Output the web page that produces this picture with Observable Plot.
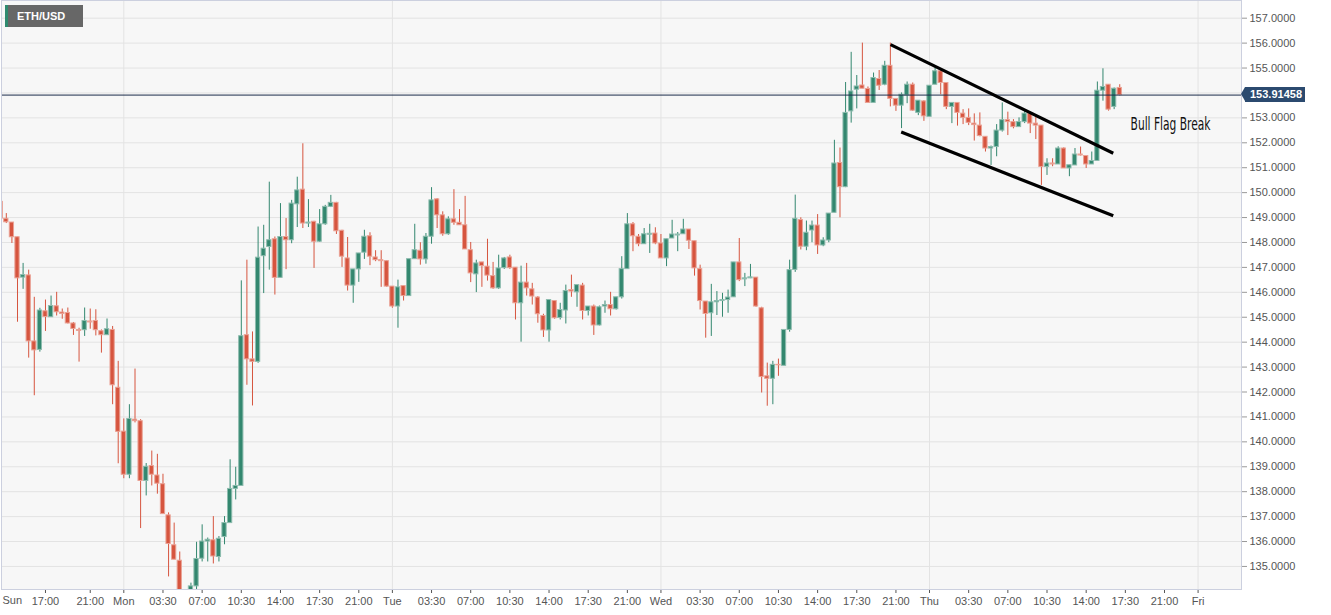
<!DOCTYPE html>
<html><head><meta charset="utf-8">
<script src="https://cdn.jsdelivr.net/npm/d3@7"></script>
<script src="https://cdn.jsdelivr.net/npm/@observablehq/plot@0.6"></script>
<style>
html,body{margin:0;padding:0;background:#fff;}
#wrap{position:relative;width:1331px;height:615px;overflow:hidden;}
#sym{position:absolute;z-index:2;left:5px;top:5px;width:78px;height:22px;background:#676767;border-left:3px solid #2f8a6f;color:#fff;font:bold 11px "Liberation Sans",Arial,sans-serif;line-height:22px;padding-left:9px;box-sizing:border-box;}
#tag{position:absolute;z-index:3;height:15px;width:60px;background:#2b4a6f;color:#fff;font:bold 11px "Liberation Sans",Arial,sans-serif;line-height:15px;padding-left:5px;box-sizing:border-box;white-space:nowrap;}
#tag:before{content:"";position:absolute;left:-4px;top:0;border-top:7.5px solid transparent;border-bottom:7.5px solid transparent;border-right:4px solid #2b4a6f;}
</style></head><body><div id="wrap"><div id="sym">ETH/USD</div><div id="tag"></div></div>
<script>
// 30-minute candles, first bar Sun 13:00 (hours relative to Mon 00:00)
const firstBarHour = -11;
const barHours = 0.5;
const open = [149.63,148.95,148.80,148.21,146.59,146.68,144.03,143.69,145.24,145.00,
145.44,145.19,145.17,144.75,144.49,144.48,144.83,144.85,144.44,144.28,
144.49,142.17,140.41,138.68,140.89,140.83,138.43,139.03,138.65,138.30,
137.05,135.85,135.23,133.95,133.90,134.20,135.31,136.00,136.05,135.38,
136.18,136.74,138.11,138.23,144.28,143.31,143.21,147.45,147.82,148.13,
146.58,148.22,148.09,149.53,150.12,148.76,148.83,148.03,148.73,149.43,
149.59,148.47,147.36,146.27,146.92,147.59,148.25,147.40,147.29,147.25,
146.23,145.43,146.25,145.85,147.33,147.67,147.32,148.23,149.73,149.09,
148.33,148.93,148.79,148.69,147.69,146.72,147.20,147.03,146.65,146.16,
146.97,147.40,146.99,145.56,146.39,146.12,145.79,145.05,144.47,145.65,
144.97,145.27,146.09,146.00,146.27,145.25,145.43,144.67,145.43,145.49,
145.32,145.80,146.93,148.73,148.23,147.93,148.31,148.36,147.96,147.36,
148.16,148.28,148.33,148.52,148.05,146.93,145.63,145.16,145.60,145.65,
145.69,145.80,147.20,146.52,146.56,146.59,145.36,142.63,142.53,143.09,
143.05,144.49,146.90,148.90,147.83,148.48,148.68,147.88,148.08,149.19,
151.19,150.22,153.26,154.13,154.30,154.16,153.60,154.56,154.33,155.09,
153.76,153.49,153.90,154.33,153.20,153.66,153.04,154.33,154.87,154.40,
153.44,153.60,153.17,153.00,152.77,152.69,152.24,151.77,151.83,152.49,
152.91,152.83,152.63,152.83,153.17,152.77,152.69,151.03,151.17,151.13,
151.77,150.97,151.09,151.53,151.47,151.13,151.27,154.09,154.33,153.44,
154.20];
const high = [149.65,149.16,148.80,148.21,147.16,146.89,145.80,145.36,145.69,145.85,
146.00,145.33,145.37,144.79,144.56,145.37,145.33,145.30,144.49,144.93,
144.63,143.23,140.92,141.49,142.92,140.89,139.13,139.63,139.50,138.70,
137.15,136.74,135.58,134.00,134.33,135.97,136.67,136.14,137.00,136.20,
137.00,139.28,138.98,146.46,147.29,144.41,148.62,148.69,150.42,148.22,
149.56,148.96,149.69,150.62,151.96,149.72,148.85,149.32,149.49,149.89,
149.61,148.49,148.20,146.92,147.56,148.49,148.39,147.67,147.67,147.27,
146.23,146.49,146.25,147.33,148.73,147.99,148.36,150.20,149.76,149.23,
149.03,150.12,149.32,149.85,148.00,147.29,147.20,148.13,147.20,147.49,
147.40,147.49,146.99,147.05,147.16,146.36,145.83,145.12,145.69,145.67,
145.56,146.29,146.69,146.29,146.36,145.43,145.49,145.45,145.65,146.00,
145.80,147.43,149.16,148.80,148.32,148.56,148.73,148.59,148.32,148.13,
148.89,148.40,148.93,148.52,148.05,147.09,145.63,146.32,146.03,145.96,
146.09,147.20,148.16,146.76,147.12,146.59,145.40,143.16,143.23,143.32,
144.49,147.29,149.90,148.99,148.86,148.86,149.12,148.19,149.16,152.10,
151.79,154.42,155.63,154.70,156.00,154.24,154.80,154.90,155.27,156.00,
153.76,154.00,154.44,154.40,153.69,153.69,154.29,155.00,154.93,154.40,
153.60,153.60,153.33,153.36,153.16,153.20,152.24,151.87,152.73,153.60,
153.23,152.93,153.00,153.27,153.23,153.07,152.69,151.36,151.36,151.84,
151.80,151.10,151.77,151.83,151.47,151.63,154.44,154.97,154.33,154.20,
154.33];
const low = [148.75,148.76,147.96,144.80,146.12,143.36,141.85,143.60,144.43,144.99,
145.05,144.92,144.73,144.27,143.20,144.23,144.52,144.25,143.56,144.27,
141.49,139.12,138.52,138.52,140.76,136.52,137.83,138.23,137.90,137.10,
134.58,135.27,133.80,133.60,133.70,133.90,135.18,135.18,135.10,135.18,
135.87,136.74,137.67,138.23,142.27,141.44,143.15,145.95,146.89,145.89,
146.58,146.91,147.95,148.60,148.56,148.60,146.96,148.00,148.69,149.40,
148.32,147.00,146.05,145.56,146.40,147.32,147.07,147.23,146.20,146.20,
145.36,144.56,145.65,145.85,147.33,147.09,147.13,147.93,148.56,148.25,
148.29,148.69,148.69,147.72,146.39,145.99,146.20,146.45,146.12,146.12,
146.92,146.92,144.89,144.00,145.85,145.49,144.76,144.19,144.00,144.92,
144.89,144.73,145.80,145.40,144.89,145.05,144.27,144.65,145.16,145.05,
145.29,145.73,146.93,147.63,147.83,147.93,147.56,147.91,147.36,147.03,
148.16,147.63,148.33,147.72,146.65,145.29,144.16,144.23,145.07,145.00,
145.16,145.80,146.43,146.23,146.55,145.40,141.96,141.43,141.49,142.63,
143.05,144.40,146.80,147.70,147.67,147.99,147.52,147.83,147.99,149.19,
148.99,150.20,152.79,153.36,154.17,153.60,153.60,154.10,154.29,153.44,
153.26,152.57,153.57,153.26,153.09,152.86,153.04,154.33,153.93,153.33,
152.77,152.67,152.73,152.69,152.07,152.24,151.63,151.09,151.44,152.43,
152.29,152.56,152.63,152.77,152.37,152.13,150.29,150.69,151.04,151.13,
150.97,150.64,151.09,151.47,150.97,151.13,151.27,153.67,153.27,153.33,
153.88];
const close = [148.96,148.81,148.21,146.56,146.69,144.03,143.67,145.27,145.01,145.45,
145.20,145.13,144.75,144.53,144.45,144.85,144.79,144.48,144.28,144.52,
142.27,140.40,138.68,140.92,140.83,138.43,139.00,138.68,138.32,137.10,
135.90,135.27,134.00,133.85,134.20,135.30,136.00,136.07,135.40,136.11,
136.74,138.11,138.23,144.24,143.31,143.21,147.39,147.75,148.09,146.58,
148.22,148.09,149.56,150.09,148.76,148.80,148.03,148.73,149.43,149.59,
148.45,147.43,146.27,146.92,147.56,148.23,147.43,147.29,147.25,146.23,
145.43,146.20,145.85,147.33,147.69,147.32,148.23,149.69,149.09,148.33,
148.93,148.79,148.69,147.72,146.76,147.16,147.05,146.67,146.16,146.96,
147.36,146.97,145.56,146.39,146.16,145.83,145.12,144.47,145.69,144.96,
145.29,146.05,146.03,146.29,145.25,145.43,144.67,145.40,145.49,145.32,
145.80,146.93,148.73,148.25,147.93,148.33,148.35,147.96,147.36,148.13,
148.32,148.32,148.52,148.07,146.96,145.65,145.13,145.60,145.65,145.69,
145.79,147.20,146.49,146.56,146.60,145.43,142.60,142.53,143.09,143.07,
144.49,146.89,148.95,147.83,148.39,148.68,147.88,148.08,149.16,151.17,
150.22,153.20,154.06,154.26,154.17,153.60,154.60,154.29,155.09,153.76,
153.49,153.93,154.33,153.29,153.69,153.06,154.29,154.87,154.40,153.44,
153.60,153.20,153.00,152.80,152.71,152.27,151.77,151.83,152.49,152.91,
152.83,152.63,152.83,153.17,152.77,152.69,151.03,151.17,151.13,151.77,
150.97,151.10,151.53,151.49,151.13,151.27,154.09,154.24,153.33,154.17,
153.91458];
const lastPrice = 153.91458;
const lastPriceLabel = "153.91458";

const priceTicks = d3.range(135, 158);
const hiddenPriceLabels = [154]; // covered by the last-price tag
const timeTicks = [-7,-3,0,3.5,7,10.5,14,17.5,21,24,27.5,31,34.5,38,41.5,45,48,51.5,55,58.5,62,65.5,69,72,75.5,79,82.5,86,89.5,93,96];
const timeTickLabels = ["17:00","21:00","Mon","03:30","07:00","10:30","14:00","17:30","21:00","Tue","03:30","07:00","10:30","14:00","17:30","21:00","Wed","03:30","07:00","10:30","14:00","17:30","21:00","Thu","03:30","07:00","10:30","14:00","17:30","21:00","Fri"];
const dayLines = [0, 24, 48, 72, 96];
const firstDayLabel = "Sun";

// Bull flag trend lines (hours, price)
const flagX1 = [68.52, 69.47];
const flagY1 = [155.94, 152.43];
const flagX2 = [88.42, 88.42];
const flagY2 = [151.58, 149.07];
const noteText = "Bull Flag Break";
const noteX = 93.54, noteY = 152.73;

const UP = "#33876f", DOWN = "#d6553f";
const UP_EDGE = "#8dbcae", DOWN_EDGE = "#eaa295";

const bars = open.map((o, i) => ({
  t: firstBarHour + i * barHours, open: o, high: high[i], low: low[i], close: close[i], up: close[i] >= o
}));
const flags = flagX1.map((x, i) => ({x1: x, y1: flagY1[i], x2: flagX2[i], y2: flagY2[i]}));
const labelOf = new Map(timeTicks.map((t, i) => [t, timeTickLabels[i]]));
const shownPriceLabels = priceTicks.filter(p => !hiddenPriceLabels.includes(p));

const plot = Plot.plot({
  width: 1331, height: 615,
  marginLeft: 1, marginRight: 90, marginTop: 0, marginBottom: 26,
  x: {type: "linear", domain: [-10.93, 99.88], axis: null},
  y: {domain: [134.075, 157.71], axis: null},
  style: {background: "white", fontFamily: "'Liberation Sans', Arial, sans-serif", color: "#555"},
  marks: [
    Plot.frame({fill: "#f7f7f7"}),
    Plot.gridY(priceTicks, {stroke: "#e3e3e3", strokeOpacity: 1}),
    Plot.gridX(dayLines, {stroke: "#e3e3e3", strokeOpacity: 1}),
    Plot.ruleX(bars, {x: "t", y1: "low", y2: "high", stroke: d => d.up ? UP : DOWN, strokeWidth: 1, clip: true}),
    Plot.rect(bars, {x1: d => d.t - 0.19, x2: d => d.t + 0.19, y1: "open", y2: "close",
      fill: d => d.up ? UP : DOWN, stroke: d => d.up ? UP_EDGE : DOWN_EDGE, strokeWidth: 1, clip: true}),
    Plot.ruleY([lastPrice], {stroke: "#1b2c4a", strokeWidth: 1}),
    Plot.link(flags, {x1: "x1", y1: "y1", x2: "x2", y2: "y2", stroke: "#000", strokeWidth: 3.2, strokeLinecap: "butt"}),
    Plot.text([noteText], {x: noteX, y: noteY, text: d => d, fontSize: 18, fill: "#111",
      fontFamily: "'Liberation Sans Narrow', 'Arial Narrow', 'DejaVu Sans Condensed', sans-serif"}),
    Plot.axisY(priceTicks, {anchor: "right", tickSize: 5, text: null, stroke: "#999"}),
    Plot.axisY(shownPriceLabels, {anchor: "right", tickSize: 5, tickPadding: 3, tickFormat: d => d.toFixed(4), fontSize: 11, stroke: null}),
    Plot.axisX(timeTicks, {anchor: "bottom", tickSize: 4, tickPadding: 4, tickFormat: d => labelOf.get(d), fontSize: 11}),
    Plot.text([firstDayLabel], {frameAnchor: "bottom-left", text: d => d, textAnchor: "start", dy: 14, dx: 1, fontSize: 11, fill: "#555"}),
    Plot.frame({stroke: "#ccd0df"})
  ]
});

const wrap = document.getElementById("wrap");
wrap.insertBefore(plot, wrap.firstChild);

// stretch annotation text to the reference width
d3.select(plot).selectAll("text").filter(function() { return this.textContent === noteText; })
  .attr("textLength", 80).attr("lengthAdjust", "spacingAndGlyphs");

// last price tag on the right axis, positioned with the plot's scales
const ys = plot.scale("y"), xs = plot.scale("x");
const py = ys.apply(lastPrice);
const px = xs.apply(xs.domain[1]);
const tag = document.getElementById("tag");
tag.textContent = lastPriceLabel;
tag.style.left = (px + 4) + "px";
tag.style.top = (py - 7.5) + "px";
</script>
</body></html>
